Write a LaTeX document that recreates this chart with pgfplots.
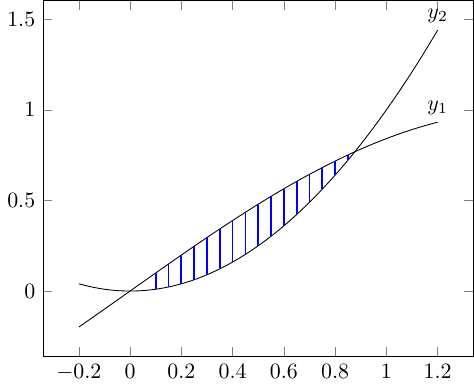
\documentclass[border=0pt]{standalone}
\usepackage{pgfplots}
\pgfplotsset{compat=1.18}
\begin{document}
\begin{tikzpicture}
\begin{axis}[
  scale only axis,
  width=197pt, height=163pt,
  xtick={-0.2,0,0.2,0.4,0.6,0.8,1,1.2},
  ytick={0,0.5,1,1.5},
]
\addplot[black, smooth] coordinates {
(-0.20,-0.19867) (-0.15,-0.14944) (-0.10,-0.09983) (-0.05,-0.04998) (0.00,0)
(0.05,0.04998) (0.10,0.09983) (0.15,0.14944) (0.20,0.19867) (0.25,0.24740)
(0.30,0.29552) (0.35,0.34290) (0.40,0.38942) (0.45,0.43497) (0.50,0.47943)
(0.55,0.52269) (0.60,0.56464) (0.65,0.60519) (0.70,0.64422) (0.75,0.68164)
(0.80,0.71736) (0.85,0.75128) (0.90,0.78333) (0.95,0.81342) (1.00,0.84147)
(1.05,0.86742) (1.10,0.89121) (1.15,0.91276) (1.20,0.93204)
} node[above] {$y_1$};
\addplot[black, smooth] coordinates {
(-0.20,0.04) (-0.15,0.0225) (-0.10,0.01) (-0.05,0.0025) (0.00,0)
(0.05,0.0025) (0.10,0.01) (0.15,0.0225) (0.20,0.04) (0.25,0.0625)
(0.30,0.09) (0.35,0.1225) (0.40,0.16) (0.45,0.2025) (0.50,0.25)
(0.55,0.3025) (0.60,0.36) (0.65,0.4225) (0.70,0.49) (0.75,0.5625)
(0.80,0.64) (0.85,0.7225) (0.90,0.81) (0.95,0.9025) (1.00,1)
(1.05,1.1025) (1.10,1.21) (1.15,1.3225) (1.20,1.44)
} node[above] {$y_2$};
\addplot[draw=none, mark=none, forget plot,
  error bars/.cd, y dir=plus, y explicit, error mark=none,
  error bar style={blue, line width=0.8pt}]
coordinates {
(0.10,0.01) +- (0,0.08983)
(0.15,0.0225) +- (0,0.12694)
(0.20,0.04) +- (0,0.15867)
(0.25,0.0625) +- (0,0.18490)
(0.30,0.09) +- (0,0.20552)
(0.35,0.1225) +- (0,0.22040)
(0.40,0.16) +- (0,0.22942)
(0.45,0.2025) +- (0,0.23247)
(0.50,0.25) +- (0,0.22943)
(0.55,0.3025) +- (0,0.22019)
(0.60,0.36) +- (0,0.20464)
(0.65,0.4225) +- (0,0.18269)
(0.70,0.49) +- (0,0.15422)
(0.75,0.5625) +- (0,0.11914)
(0.80,0.64) +- (0,0.07736)
(0.85,0.7225) +- (0,0.02878)
};
\end{axis}
\end{tikzpicture}
\end{document}
